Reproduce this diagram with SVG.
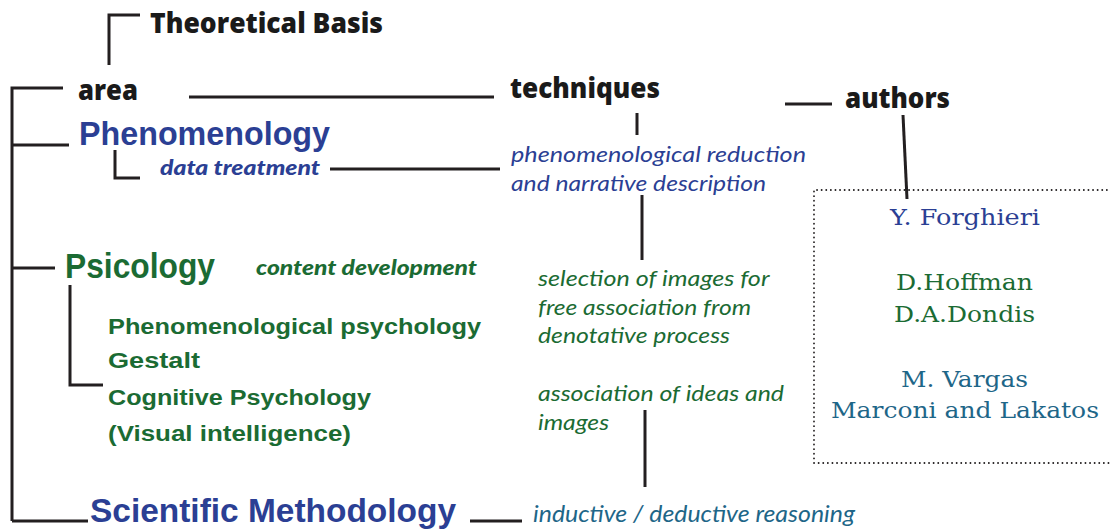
<svg xmlns="http://www.w3.org/2000/svg" width="1111" height="530" viewBox="0 0 1111 530">
<style>
.ln{stroke:#231f20;stroke-width:3;fill:none;stroke-linecap:butt}
.hd{font-family:"Open Sans",Lato,sans-serif;font-weight:800;fill:#1a1a1a}
.area{font-family:"Liberation Sans",Arial,sans-serif;font-weight:bold}
.bl{fill:#2b3f94}
.gr{fill:#1b6b33}
.tl{fill:#1e6688}
.it{font-family:Lato,"Open Sans",sans-serif;font-style:italic}
.bi{font-family:Lato,"Open Sans",sans-serif;font-style:italic;font-weight:900}
.au{font-family:"DejaVu Serif","Liberation Serif",serif;font-size:23px}
</style>
<rect width="1111" height="530" fill="#fff"/>
<g id="connectors">
<path class="ln" d="M109 65V15H140"/>
<path class="ln" d="M12 521V88H63M12 145H69M12 268H55M12 521H88"/>
<path class="ln" d="M189 97H494"/>
<path class="ln" d="M785 104H832"/>
<path class="ln" d="M115 150V178H140"/>
<path class="ln" d="M330 169H500"/>
<path class="ln" d="M637 113V135"/>
<path class="ln" d="M642 195V260"/>
<path class="ln" d="M903 115L907 199"/>
<path class="ln" d="M70 285V385H103"/>
<path class="ln" d="M645 410V487"/>
<path class="ln" d="M470 521H522"/>
</g>
<g id="theoretical-basis"><text class="hd" x="150" y="33" font-size="28" textLength="233" lengthAdjust="spacingAndGlyphs">Theoretical Basis</text></g>
<g id="area"><text class="hd" x="78" y="100" font-size="28" textLength="60" lengthAdjust="spacingAndGlyphs">area</text></g>
<g id="techniques"><text class="hd" x="510" y="98" font-size="28" textLength="150" lengthAdjust="spacingAndGlyphs">techniques</text></g>
<g id="authors"><text class="hd" x="845" y="108" font-size="28" textLength="105" lengthAdjust="spacingAndGlyphs">authors</text></g>
<g id="phenomenology"><text class="area bl" x="79" y="145" font-size="33" textLength="251" lengthAdjust="spacingAndGlyphs">Phenomenology</text></g>
<g id="data-treatment"><text class="bi bl" x="160" y="175" font-size="21" textLength="160" lengthAdjust="spacingAndGlyphs">data  treatment</text></g>
<g id="phen-technique"><text class="it bl" font-size="21"><tspan x="511" y="162" textLength="295" lengthAdjust="spacingAndGlyphs">phenomenological reduction</tspan><tspan x="511" y="191" textLength="255" lengthAdjust="spacingAndGlyphs">and narrative description</tspan></text></g>
<g id="authors-box">
<path d="M814 463V190H1111M814 463H1111" fill="none" stroke="#231f20" stroke-width="1.8" stroke-dasharray="0.1 4.5" stroke-linecap="round"/>
<text class="au bl" x="890" y="225" textLength="150" lengthAdjust="spacingAndGlyphs">Y. Forghieri</text>
<text class="au gr" x="896" y="290" textLength="137" lengthAdjust="spacingAndGlyphs">D.Hoffman</text>
<text class="au gr" x="894" y="322" textLength="141" lengthAdjust="spacingAndGlyphs">D.A.Dondis</text>
<text class="au tl" x="901" y="387" textLength="127" lengthAdjust="spacingAndGlyphs">M. Vargas</text>
<text class="au tl" x="831" y="418" textLength="268" lengthAdjust="spacingAndGlyphs">Marconi and Lakatos</text>
</g>
<g id="psicology"><text class="area gr" x="65" y="278" font-size="35" textLength="150" lengthAdjust="spacingAndGlyphs">Psicology</text></g>
<g id="content-development"><text class="bi gr" x="256" y="275" font-size="20" textLength="221" lengthAdjust="spacingAndGlyphs">content development</text></g>
<g id="psy-list"><text class="area gr" font-size="22">
<tspan x="108" y="334" textLength="373" lengthAdjust="spacingAndGlyphs">Phenomenological psychology</tspan>
<tspan x="108" y="368" textLength="92" lengthAdjust="spacingAndGlyphs">Gestalt</tspan>
<tspan x="108" y="405" textLength="263" lengthAdjust="spacingAndGlyphs">Cognitive Psychology</tspan>
<tspan x="108" y="441" textLength="243" lengthAdjust="spacingAndGlyphs">(Visual intelligence)</tspan>
</text></g>
<g id="psy-technique-1"><text class="it gr" font-size="21">
<tspan x="538" y="286" textLength="231" lengthAdjust="spacingAndGlyphs">selection of images for</tspan>
<tspan x="538" y="315" textLength="213" lengthAdjust="spacingAndGlyphs">free association from</tspan>
<tspan x="538" y="343" textLength="192" lengthAdjust="spacingAndGlyphs">denotative process</tspan>
</text></g>
<g id="psy-technique-2"><text class="it gr" font-size="21">
<tspan x="538" y="401" textLength="246" lengthAdjust="spacingAndGlyphs">association of ideas and</tspan>
<tspan x="538" y="430" textLength="71" lengthAdjust="spacingAndGlyphs">images</tspan>
</text></g>
<g id="scientific-methodology"><text class="area bl" x="90" y="522" font-size="33" textLength="366" lengthAdjust="spacingAndGlyphs">Scientific Methodology</text></g>
<g id="sci-technique"><text class="it tl" x="533" y="522" font-size="23" textLength="322" lengthAdjust="spacingAndGlyphs">inductive / deductive reasoning</text></g>
</svg>
